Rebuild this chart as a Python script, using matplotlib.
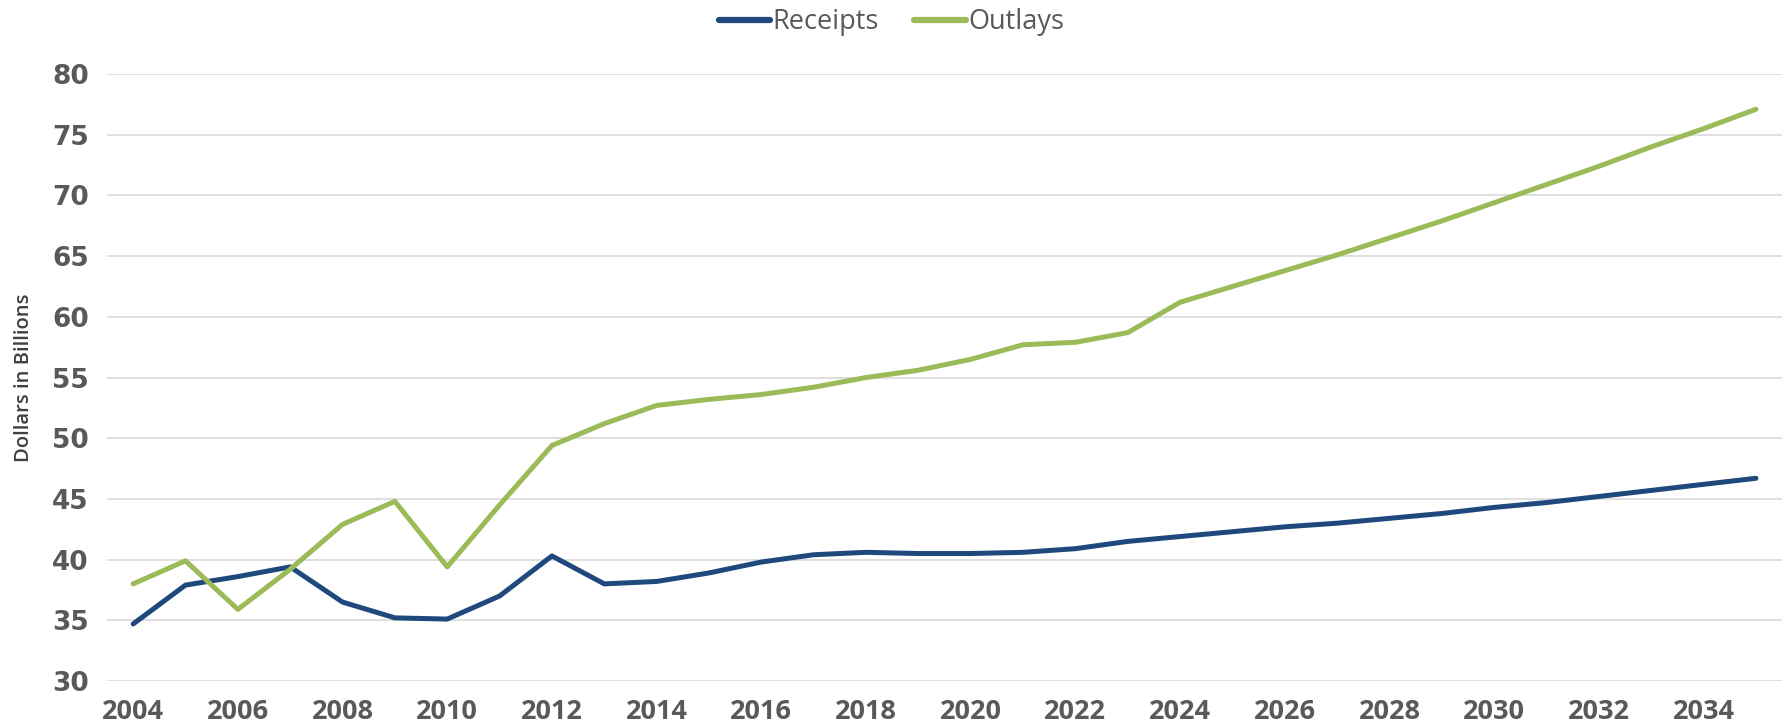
import numpy as np
import matplotlib
matplotlib.use('Agg')
import matplotlib.pyplot as plt

# Data
years = list(range(2004, 2036))
receipts = [34.7, 37.9, 38.6, 39.4, 36.5, 35.2, 35.1, 37.0, 40.3, 38.0,
            38.2, 38.9, 39.8, 40.4, 40.6, 40.5, 40.5, 40.6, 40.9, 41.5,
            41.9, 42.3, 42.7, 43.0, 43.4, 43.8, 44.3, 44.7, 45.2, 45.7,
            46.2, 46.7]
outlays = [38.0, 39.9, 35.9, 39.2, 42.9, 44.8, 39.4, 44.5, 49.4, 51.2,
           52.7, 53.2, 53.6, 54.2, 55.0, 55.6, 56.5, 57.7, 57.9, 58.7,
           61.2, 62.5, 63.8, 65.1, 66.5, 67.9, 69.4, 70.9, 72.4, 74.0,
           75.5, 77.1]
xtick_years = list(range(2004, 2036, 2))
ytick_vals = list(range(30, 85, 5))

blue = '#1F497D'
green = '#9BBB59'
grey_txt = '#595959'
narrow = ['Open Sans', 'DejaVu Sans']

fig = plt.figure(figsize=(17.83, 7.26), dpi=100)
ax = fig.add_axes([0.060, 0.062, 0.9395, 0.836])

ax.plot(years, receipts, color=blue, linewidth=3.6, solid_capstyle='round', label='Receipts')
ax.plot(years, outlays, color=green, linewidth=3.6, solid_capstyle='round', label='Outlays')

ax.set_xlim(2003.5, 2035.5)
ax.set_ylim(30, 80)
ax.set_yticks(ytick_vals)
ax.set_xticks(xtick_years)
ax.set_xticklabels([str(y) for y in xtick_years], family=narrow, fontweight='bold',
                   fontsize=19.5, color=grey_txt)
ax.set_yticklabels([str(v) for v in ytick_vals], family='DejaVu Sans', fontweight='bold',
                   fontsize=19, color=grey_txt)
ax.tick_params(axis='both', length=0)
ax.tick_params(axis='x', pad=13)
ax.tick_params(axis='y', pad=13)

ax.grid(axis='y', color='#D9D9D9', linewidth=1.2)
ax.set_axisbelow(True)
for s in ax.spines.values():
    s.set_visible(False)

ax.set_ylabel('Dollars in Billions', family=narrow, fontsize=14.5, fontweight='semibold',
              color='#404040', labelpad=13)

leg = fig.legend(loc='upper center', bbox_to_anchor=(0.5, 1.022), ncol=2, frameon=False,
                 prop={'family': narrow, 'size': 19.5}, handlelength=1.9, columnspacing=1.3,
                 handletextpad=0.1)
for t in leg.get_texts():
    t.set_color(grey_txt)
for h in leg.get_lines():
    h.set_linewidth(4.5)

fig.savefig('out.png', dpi=100)
